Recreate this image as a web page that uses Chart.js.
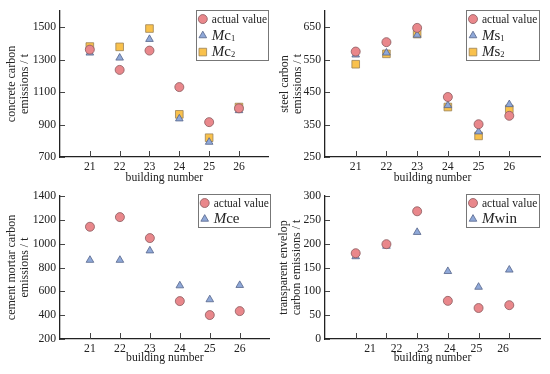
<!DOCTYPE html>
<html>
<head>
<meta charset="utf-8">
<script src="https://cdn.jsdelivr.net/npm/chart.js@4"></script>
<style>
  body { margin: 0; background: #fff; }
  #wrap { position: relative; width: 550px; height: 374px; }
  #wrap canvas { position: absolute; }
</style>
</head>
<body>
<div id="wrap">
  <canvas id="c1" width="275" height="185" style="left:0;top:0"></canvas>
  <canvas id="c2" width="275" height="185" style="left:275px;top:0"></canvas>
  <canvas id="c3" width="275" height="189" style="left:0;top:185px"></canvas>
  <canvas id="c4" width="275" height="189" style="left:275px;top:185px"></canvas>
</div>
<script>
// building numbers on the x axis
const buildings = [21, 22, 23, 24, 25, 26];

// concrete carbon emissions / t
const concreteActual = [1362, 1237, 1356, 1131, 915, 1000];
const concreteMc1 = [1342, 1311, 1426, 936, 792, 987];
const concreteMc2 = [1381, 1379, 1492, 963, 819, 1008];
const concreteTicks = [700, 900, 1100, 1300, 1500];

// steel carbon emissions / t
const steelActual = [575, 604, 648, 435, 351, 377];
const steelMs1 = [565, 571, 626, 409, 328, 412];
const steelMs2 = [536, 568, 629, 404, 315, 398];
const steelTicks = [250, 350, 450, 550, 650];

// cement mortar carbon emissions / t
const mortarActual = [1142, 1223, 1047, 518, 401, 434];
const mortarMce = [862, 862, 941, 648, 531, 651];
const mortarTicks = [200, 400, 600, 800, 1000, 1200, 1400];

// transparent envelop carbon emissions / t
const windowActual = [180, 199, 268, 80, 65, 71];
const windowMwin = [173, 195, 224, 142, 109, 145];
const windowTicks = [0, 50, 100, 150, 200, 250, 300];

const FONT = 'Liberation Serif';
const INK = '#222';

const circleStyle = { shape: 'circle', r: 4.5, fill: '#e9878b', line: '#8a5a5e' };
const triStyle = { shape: 'triangle', r: 4.4, fill: '#8fa8d8', line: '#55648a' };
const rectStyle = { shape: 'rect', r: 5.4, fill: '#f9c14c', line: '#9a8256' };

// small ticks drawn inside the axes
const innerTicks = {
  id: 'innerTicks',
  beforeDatasetsDraw(chart) {
    const { ctx, chartArea } = chart;
    const xs = chart.scales.x, ys = chart.scales.y;
    ctx.save();
    ctx.strokeStyle = '#444';
    ctx.lineWidth = 1;
    buildings.forEach(v => {
      const px = Math.round(xs.getPixelForValue(v)) + 0.5;
      ctx.beginPath();
      ctx.moveTo(px, chartArea.bottom);
      ctx.lineTo(px, chartArea.bottom - 6);
      ctx.stroke();
    });
    ys.ticks.forEach(t => {
      const py = Math.round(ys.getPixelForValue(t.value)) + 0.5;
      ctx.beginPath();
      ctx.moveTo(chartArea.left, py);
      ctx.lineTo(chartArea.left + 5, py);
      ctx.stroke();
    });
    ctx.restore();
  }
};

// framed legend with italic / subscript labels
const boxLegend = {
  id: 'boxLegend',
  afterDraw(chart, args, o) {
    const { ctx, chartArea } = chart;
    const n = chart.data.datasets.length;
    const x0 = chartArea.right - o.width + (o.dx || 0);
    const y0 = chartArea.top + o.dy;
    const h = n * o.rowH + o.padY * 2;
    ctx.save();
    ctx.fillStyle = '#fff';
    ctx.fillRect(x0, y0, o.width, h);
    ctx.strokeStyle = '#777';
    ctx.lineWidth = 1;
    ctx.strokeRect(Math.round(x0) + 0.5, Math.round(y0) + 0.5, o.width - 1, Math.round(h) - 1);
    chart.data.datasets.forEach((ds, i) => {
      const cy = y0 + o.padY + o.rowH * (i + 0.5);
      ctx.fillStyle = ds.backgroundColor;
      ctx.strokeStyle = ds.borderColor;
      ctx.lineWidth = ds.borderWidth;
      Chart.helpers.drawPoint(ctx, { pointStyle: ds.pointStyle, radius: ds.pointRadius, borderWidth: ds.borderWidth, rotation: 0 }, x0 + 7, cy);
      let tx = x0 + 16;
      ctx.fillStyle = INK;
      ctx.textBaseline = 'alphabetic';
      ds.legendParts.forEach(p => {
        const size = p.size || 11.5;
        ctx.font = (p.italic ? 'italic ' : '') + size + 'px "' + FONT + '"';
        ctx.fillText(p.t, tx, cy + 4 + (p.dy || 0));
        tx += ctx.measureText(p.t).width + (p.gap || 0);
      });
    });
    ctx.restore();
  }
};

function part(t, italic, size, dy, gap) { return { t, italic, size, dy, gap }; }

function panel(id, cfg) {
  const datasets = cfg.series.map(s => ({
    label: s.name,
    legendParts: s.parts,
    data: buildings.map((b, i) => ({ x: b, y: s.values[i] })),
    pointStyle: s.style.shape,
    pointRadius: s.style.r,
    pointHoverRadius: s.style.r,
    backgroundColor: s.style.fill,
    borderColor: s.style.line,
    borderWidth: 0.8
  }));
  const font = { family: FONT, size: 11.7 };
  const noGrid = { display: false, drawTicks: false, tickLength: 0 };
  const plain = v => String(v);
  const scales = {
    x: {
      type: 'linear', min: 20, max: 27,
      afterBuildTicks: s => { s.ticks = buildings.map(v => ({ value: v })); },
      ticks: { display: !cfg.shiftLabels, font, color: INK, padding: 3, maxRotation: 0, callback: plain },
      grid: noGrid,
      border: { color: INK, width: 1.3 },
      title: { display: !cfg.shiftLabels, text: 'building number', font, color: INK, padding: { top: 0, bottom: cfg.xTitlePad } },
      afterFit: s => { s.height = cfg.shiftLabels ? 0 : cfg.xh; }
    },
    y: {
      type: 'linear', min: cfg.yMin, max: cfg.yMax,
      afterBuildTicks: s => { s.ticks = cfg.yTicks.map(v => ({ value: v })); },
      ticks: { font, color: INK, padding: 4, callback: plain },
      grid: noGrid,
      border: { color: INK, width: 1.3 },
      title: { display: true, text: cfg.yTitle, font: { family: FONT, size: 12, lineHeight: 1.05 }, color: INK, padding: { top: cfg.yTitlePad, bottom: 0 } },
      afterFit: s => { s.width = cfg.yw; }
    }
  };
  if (cfg.shiftLabels) {
    scales.x2 = {
      type: 'linear', position: 'bottom', min: 19.31, max: 27.39,
      afterBuildTicks: s => { s.ticks = buildings.map(v => ({ value: v })); },
      ticks: { font, color: INK, padding: 3, maxRotation: 0, callback: plain },
      grid: noGrid,
      border: { display: false },
      title: { display: true, text: 'building number', font, color: INK, padding: { top: 0, bottom: cfg.xTitlePad } },
      afterFit: s => { s.height = cfg.xh; }
    };
  }
  new Chart(document.getElementById(id), {
    type: 'scatter',
    data: { datasets },
    options: {
      responsive: false,
      animation: false,
      layout: { padding: { top: cfg.padTop, right: cfg.padRight, left: 0, bottom: 0 } },
      scales,
      plugins: {
        legend: { display: false },
        tooltip: { enabled: false },
        boxLegend: cfg.legend
      }
    },
    plugins: [innerTicks, boxLegend]
  });
}

panel('c1', {
  yMin: 700, yMax: 1600, yTicks: concreteTicks,
  yTitle: ['concrete carbon', 'emissions / t'], yTitlePad: 6, yw: 60,
  padTop: 10, padRight: 2, xh: 28, xTitlePad: 0,
  legend: { width: 73, dy: -1, rowH: 16.5, padY: 0.8 },
  series: [
    { name: 'actual value', values: concreteActual, style: circleStyle, parts: [part('actual value')] },
    { name: 'Mc1', values: concreteMc1, style: triStyle, parts: [part('M', true, 15), part('c', false, 15), part('1', false, 8.5, 1)] },
    { name: 'Mc2', values: concreteMc2, style: rectStyle, parts: [part('M', true, 15), part('c', false, 15), part('2', false, 8.5, 1)] }
  ]
});

panel('c2', {
  yMin: 250, yMax: 700, yTicks: steelTicks,
  yTitle: ['steel carbon', 'emissions / t'], yTitlePad: 3.5, yw: 50,
  padTop: 10, padRight: 10, xh: 28, xTitlePad: 0,
  legend: { width: 74, dy: -1, rowH: 16.5, padY: 0.8 },
  series: [
    { name: 'actual value', values: steelActual, style: circleStyle, parts: [part('actual value')] },
    { name: 'Ms1', values: steelMs1, style: triStyle, parts: [part('M', true, 15), part('s', false, 15), part('1', false, 8.5, 1)] },
    { name: 'Ms2', values: steelMs2, style: rectStyle, parts: [part('M', true, 15), part('s', false, 15), part('2', false, 8.5, 1)] }
  ]
});

panel('c3', {
  yMin: 200, yMax: 1400, yTicks: mortarTicks,
  yTitle: ['cement mortar carbon', 'emissions / t'], yTitlePad: 6, yw: 60,
  padTop: 7, padRight: 2, xh: 35, xTitlePad: 9.5,
  legend: { width: 73, dx: 1, dy: -2, rowH: 16, padY: 1 },
  series: [
    { name: 'actual value', values: mortarActual, style: circleStyle, parts: [part('actual value')] },
    { name: 'Mce', values: mortarMce, style: triStyle, parts: [part('M', true, 15), part('ce', false, 15)] }
  ]
});

panel('c4', {
  yMin: 0, yMax: 300, yTicks: windowTicks,
  yTitle: ['transparent envelop', 'carbon emissions / t'], yTitlePad: 3, yw: 50,
  padTop: 7, padRight: 10, xh: 35, xTitlePad: 9.5, shiftLabels: true,
  legend: { width: 74, dy: -2, rowH: 16, padY: 1 },
  series: [
    { name: 'actual value', values: windowActual, style: circleStyle, parts: [part('actual value')] },
    { name: 'Mwin', values: windowMwin, style: triStyle, parts: [part('M', true, 15), part('win', false, 15)] }
  ]
});
</script>
</body>
</html>
